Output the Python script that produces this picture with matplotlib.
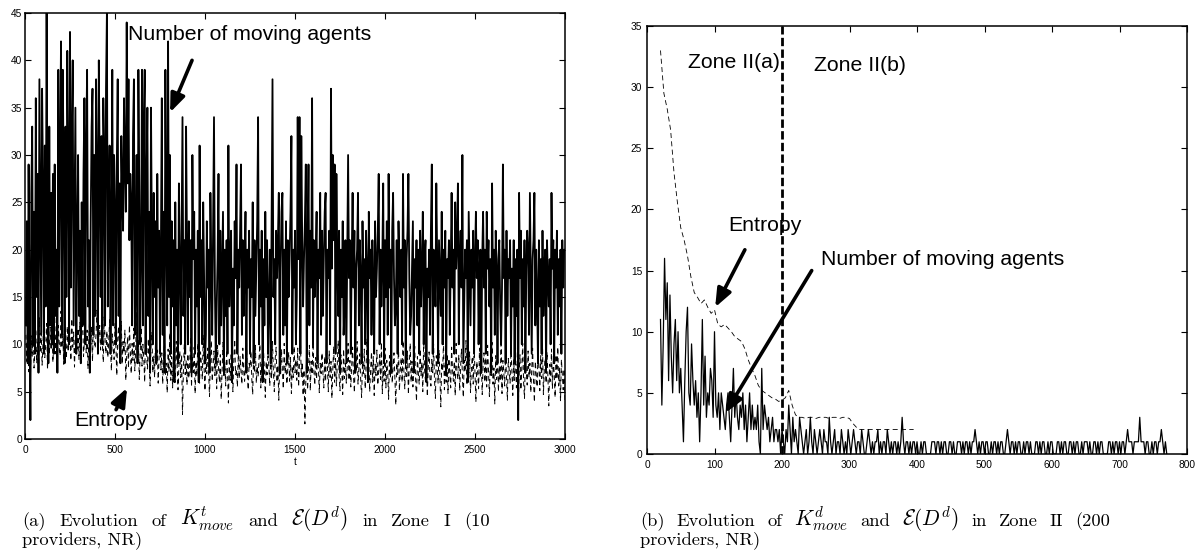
import matplotlib
matplotlib.use('Agg')
import matplotlib.pyplot as plt
import numpy as np

plt.rcParams['font.family'] = ['Liberation Sans', 'DejaVu Sans']
plt.rcParams['mathtext.fontset'] = 'cm'

# ---------------- data: Zone I (10 providers), sampled every 5 steps ----------------
zone1_step = 5
zone1_moving = [
    12, 23, 8, 29, 14, 2, 26, 33, 10, 24, 9, 36, 15, 28, 7, 38, 25, 11, 37, 27, 9, 31, 14, 45, 21, 8, 33, 12, 26, 10,
    28, 9, 29, 13, 20, 7, 39, 14, 30, 42, 11, 39, 27, 8, 33, 15, 41, 29, 10, 43, 16, 31, 40, 12, 24, 35, 9, 21, 30, 13,
    22, 8, 25, 12, 28, 36, 10, 31, 39, 14, 21, 7, 23, 33, 37, 11, 30, 13, 38, 28, 9, 40, 29, 15, 32, 10, 36, 30, 12, 37,
    45, 14, 24, 31, 9, 22, 39, 12, 30, 24, 10, 29, 38, 13, 27, 8, 32, 26, 22, 36, 29, 24, 44, 27, 38, 21, 28, 25, 12, 32,
    38, 11, 18, 30, 8, 39, 26, 10, 20, 39, 12, 33, 39, 9, 27, 35, 13, 24, 7, 35, 21, 10, 26, 15, 23, 8, 28, 16, 22, 9,
    20, 36, 11, 24, 7, 39, 22, 12, 42, 15, 30, 9, 23, 14, 21, 6, 25, 12, 20, 8, 27, 19, 10, 22, 34, 13, 21, 9, 33, 20,
    10, 23, 15, 21, 7, 30, 19, 24, 9, 20, 14, 22, 6, 31, 15, 21, 10, 25, 17, 8, 11, 23, 16, 20, 7, 26, 18, 11, 22, 34,
    16, 8, 14, 19, 28, 10, 22, 12, 18, 24, 7, 20, 13, 21, 9, 31, 14, 19, 22, 6, 18, 12, 23, 17, 29, 9, 20, 16, 22, 29,
    11, 21, 13, 18, 24, 7, 20, 16, 22, 9, 19, 15, 25, 8, 21, 13, 18, 23, 34, 10, 20, 14, 22, 6, 19, 12, 24, 15, 21, 9,
    14, 20, 8, 23, 38, 15, 19, 10, 22, 17, 21, 26, 7, 18, 24, 26, 11, 20, 12, 23, 8, 21, 15, 19, 24, 32, 9, 20, 16, 22,
    10, 15, 34, 19, 34, 9, 32, 21, 14, 19, 23, 29, 7, 20, 29, 12, 22, 16, 36, 10, 21, 15, 19, 24, 8, 20, 17, 26, 11, 22,
    13, 19, 24, 26, 8, 20, 17, 22, 10, 37, 18, 30, 21, 29, 9, 28, 19, 13, 22, 7, 20, 15, 23, 11, 14, 21, 8, 19, 30, 17,
    21, 9, 19, 26, 16, 22, 7, 18, 20, 26, 12, 21, 17, 8, 23, 16, 19, 10, 22, 18, 6, 24, 17, 20, 11, 21, 16, 9, 23, 15,
    18, 22, 28, 10, 20, 14, 19, 27, 8, 21, 15, 23, 11, 28, 16, 20, 7, 22, 26, 17, 12, 14, 21, 9, 23, 18, 15, 20, 10, 28,
    16, 21, 8, 19, 22, 28, 17, 11, 13, 18, 23, 7, 19, 16, 21, 12, 20, 9, 22, 14, 18, 24, 10, 19, 21, 6, 18, 15, 20, 11,
    22, 29, 9, 20, 18, 14, 27, 19, 8, 21, 17, 13, 24, 10, 20, 16, 22, 7, 19, 17, 21, 11, 18, 26, 16, 20, 9, 25, 18, 21,
    27, 10, 19, 22, 16, 30, 8, 14, 20, 17, 21, 6, 24, 18, 12, 20, 16, 22, 9, 19, 24, 17, 21, 10, 18, 20, 7, 19, 24, 16,
    20, 9, 24, 18, 21, 14, 19, 7, 27, 16, 20, 11, 22, 18, 8, 19, 21, 14, 10, 16, 29, 17, 20, 8, 22, 13, 19, 17, 21, 9,
    18, 14, 21, 8, 19, 13, 20, 2, 26, 17, 22, 10, 19, 14, 21, 7, 18, 22, 20, 11, 26, 17, 9, 19, 21, 26, 12, 20, 15, 8,
    21, 14, 19, 9, 22, 13, 18, 20, 7, 21, 17, 14, 19, 10, 26, 18, 21, 8, 20, 16, 22, 11, 19, 14, 20, 9, 21, 16, 20, 20,
]
zone1_entropy = [
    11.0, 8.2, 12.5, 7.1, 9.8, 6.4, 10.9, 8.7, 12.1, 7.5, 9.3, 11.6, 8.0, 10.4, 6.9, 12.8, 9.1, 11.2, 7.8, 10.1, 13.0, 8.6, 9.9, 12.2, 7.3, 10.7, 8.9, 11.8, 9.4, 12.6,
    8.1, 10.5, 13.2, 9.0, 11.4, 7.7, 12.0, 10.2, 8.8, 13.5, 9.6, 11.1, 7.9, 12.4, 10.0, 8.5, 11.9, 9.2, 13.1, 10.6, 8.3, 12.7, 9.7, 11.3, 7.6, 10.8, 12.9, 9.5, 11.7, 8.4,
    12.3, 9.9, 11.0, 13.4, 8.7, 10.3, 12.1, 9.1, 11.5, 7.4, 10.9, 13.0, 9.3, 11.8, 8.2, 12.5, 10.1, 9.6, 11.2, 13.6, 8.9, 10.7, 12.0, 9.4, 11.6, 10.0, 8.1, 12.9, 10.4, 9.0,
    11.4, 8.6, 10.2, 12.6, 9.5, 7.2, 11.1, 10.0, 8.4, 12.2, 9.8, 6.7, 10.6, 11.9, 8.8, 9.7, 12.4, 7.9, 10.3, 9.1, 11.5, 6.2, 8.9, 10.8, 7.5, 12.0, 9.4, 6.9, 10.1, 8.3,
    11.7, 7.2, 9.6, 13.4, 8.0, 10.5, 6.3, 9.2, 11.8, 7.7, 10.0, 8.5, 6.0, 12.1, 9.0, 7.4, 10.6, 8.2, 5.6, 9.7, 11.3, 7.0, 8.8, 6.5, 10.2, 7.9, 9.4, 5.9, 8.6, 10.9,
    7.3, 9.1, 5.8, 8.4, 10.6, 6.7, 8.0, 4.9, 9.5, 7.1, 11.2, 6.2, 8.7, 5.4, 9.8, 7.6, 6.0, 10.3, 8.1, 5.2, 7.7, 9.3, 6.5, 8.9, 2.6, 7.2, 10.0, 6.8, 8.3, 5.7,
    9.0, 6.4, 7.9, 10.8, 5.5, 8.6, 7.0, 9.7, 4.8, 8.2, 6.6, 10.1, 7.4, 5.9, 9.2, 8.0, 6.3, 11.0, 7.5, 5.1, 8.8, 6.9, 9.6, 7.2, 4.5, 8.4, 10.4, 6.1, 7.8, 9.3,
    6.7, 8.5, 5.3, 9.9, 7.6, 6.0, 8.9, 4.2, 7.3, 10.2, 6.5, 8.1, 5.6, 9.4, 7.0, 3.8, 8.6, 6.2, 9.1, 7.8, 5.0, 8.3, 10.5, 6.8, 7.4, 5.5, 9.0, 6.4, 8.7, 7.1,
    5.8, 9.6, 7.2, 6.1, 8.4, 10.7, 6.9, 5.2, 8.0, 7.5, 9.3, 6.3, 4.7, 8.8, 7.0, 9.9, 5.9, 7.7, 6.6, 8.5, 10.0, 5.4, 7.9, 6.2, 9.4, 7.3, 4.4, 8.2, 6.8, 9.1,
    7.6, 5.6, 8.9, 6.4, 10.3, 7.1, 5.0, 8.5, 9.7, 6.0, 7.8, 4.1, 8.3, 6.7, 9.5, 7.2, 5.3, 10.1, 6.9, 8.0, 5.8, 7.4, 9.2, 6.1, 8.6, 4.8, 7.7, 6.5, 9.8, 7.0,
    8.4, 6.2, 9.6, 5.5, 7.9, 10.5, 6.6, 8.1, 4.6, 7.3, 1.6, 6.0, 8.8, 5.2, 7.5, 9.9, 5.1, 8.2, 6.8, 10.2, 7.1, 5.7, 8.6, 6.3, 9.4, 7.6, 4.9, 8.0, 6.9, 9.1,
    7.0, 5.4, 8.7, 6.1, 10.0, 7.7, 5.0, 9.3, 6.5, 8.2, 4.3, 7.4, 9.8, 6.0, 8.5, 5.6, 7.9, 10.4, 6.7, 5.1, 8.9, 7.2, 4.7, 9.5, 6.4, 8.0, 5.9, 7.5, 10.1, 6.2,
    8.3, 5.5, 7.8, 9.7, 6.6, 4.9, 8.6, 7.1, 10.3, 5.8, 7.4, 9.0, 6.2, 4.4, 8.1, 6.9, 9.5, 5.3, 7.6, 10.6, 6.4, 8.4, 5.0, 7.3, 9.2, 6.0, 8.7, 4.6, 7.9, 6.7,
    9.4, 5.7, 7.2, 8.9, 6.3, 10.2, 4.8, 7.7, 6.1, 9.6, 5.4, 8.3, 7.0, 4.2, 8.8, 6.5, 10.0, 5.9, 7.5, 9.1, 6.2, 3.6, 8.0, 6.8, 9.7, 5.1, 7.3, 8.6, 6.0, 10.4,
    7.1, 5.3, 8.5, 6.6, 9.3, 4.7, 7.9, 10.1, 6.0, 8.2, 5.5, 7.4, 9.8, 6.3, 4.0, 8.7, 7.0, 5.8, 9.5, 6.7, 8.1, 5.0, 10.5, 7.3, 6.1, 8.9, 4.5, 7.6, 9.2, 6.4,
    5.6, 8.4, 7.0, 10.0, 6.2, 4.3, 8.8, 7.5, 5.9, 9.4, 6.6, 3.4, 8.1, 7.2, 10.3, 5.2, 7.8, 6.0, 9.0, 4.8, 8.5, 6.9, 5.4, 9.7, 7.4, 6.1, 8.2, 4.6, 10.1, 7.0,
    6.3, 8.9, 5.1, 7.6, 9.5, 6.7, 4.4, 8.3, 7.1, 10.4, 5.7, 8.0, 6.4, 9.2, 4.9, 7.4, 8.7, 5.8, 10.0, 6.9, 3.9, 8.2, 7.0, 5.3, 9.6, 6.5, 8.4, 4.7, 7.8, 9.1,
    6.0, 8.6, 5.5, 9.9, 7.2, 4.5, 8.1, 6.7, 10.2, 5.8, 7.5, 3.7, 8.8, 6.3, 9.4, 5.0, 7.7, 6.1, 10.5, 4.8, 8.3, 7.0, 5.6, 9.0, 6.6, 4.1, 8.5, 7.3, 5.9, 9.7,
    7.1, 4.6, 8.4, 6.2, 9.8, 5.4, 7.9, 3.0, 6.8, 8.9, 5.2, 7.5, 10.1, 6.0, 4.3, 8.6, 7.2, 5.7, 9.3, 6.5, 8.0, 4.9, 7.4, 9.6, 6.1, 3.9, 8.2, 6.9, 5.5, 9.0,
    7.7, 5.1, 8.8, 6.4, 10.0, 4.7, 7.3, 8.5, 5.9, 9.2, 6.6, 3.5, 7.9, 6.1, 9.5, 5.3, 8.2, 7.0, 4.4, 8.9, 6.3, 9.7, 5.6, 7.5, 4.0, 8.4, 6.8, 5.2, 7.4, 3.8,
]

# ---------------- data: Zone II (200 providers) ----------------
zone2_start = 20
zone2_moving_step = 2
zone2_moving = [
    11, 4, 9, 16, 11, 14, 6, 13, 8, 5, 9, 11, 6, 10, 5, 7, 4, 1, 6, 10, 12, 5, 4, 9, 6, 4, 6, 3, 5, 1,
    5, 11, 4, 8, 3, 5, 4, 7, 6, 3, 10, 4, 3, 5, 2, 5, 4, 3, 2, 4, 5, 3, 1, 4, 7, 3, 5, 3, 2, 4,
    3, 5, 2, 4, 1, 3, 5, 2, 4, 2, 3, 2, 4, 1, 0, 7, 2, 4, 3, 2, 3, 1, 2, 3, 1, 2, 2, 1, 2, 0, 2,
    1, 0, 2, 1, 4, 2, 0, 3, 1, 2, 1, 0, 3, 2, 1, 0, 1, 2, 0, 1, 3, 1, 0, 2, 1, 0, 1, 2, 1, 0, 2, 1, 1, 0, 3, 1, 0, 1, 2, 0, 1, 1, 0, 2, 1, 0, 1, 0, 2, 1,
    0, 1, 2, 1, 0, 1, 1, 0, 2, 1, 0, 0, 1, 2, 1, 0, 1, 0, 1, 1, 2, 0, 1, 0, 1, 1, 0, 2, 1, 0, 1, 0, 1, 1, 0, 1, 0, 1, 3, 1, 0, 1, 1, 0, 1, 0, 1, 1, 0, 1,
    0, 0, 1, 0, 1, 1, 0, 0, 0, 0, 1, 1, 1, 0, 1, 1, 0, 1, 0, 1, 1, 0, 0, 1, 1, 0, 1, 0, 0, 1, 1, 1, 0, 1, 0, 1, 1, 0, 1, 0, 1, 1, 2, 1, 0, 1, 0, 1, 1, 0,
    1, 1, 0, 0, 1, 0, 1, 1, 0, 1, 0, 1, 1, 0, 0, 1, 2, 1, 0, 1, 1, 0, 1, 0, 1, 1, 0, 0, 1, 0, 1, 1, 0, 1, 0, 0, 0, 1, 1, 0, 1, 0, 1, 1, 0, 0, 1, 0, 1, 1,
    0, 0, 0, 1, 1, 0, 1, 0, 1, 1, 0, 0, 1, 1, 0, 1, 0, 1, 1, 0, 0, 1, 0, 1, 1, 1, 0, 1, 0, 0, 1, 1, 0, 1, 0, 1, 1, 0, 0, 0, 0, 1, 1, 0, 1, 0, 1, 1, 0, 1,
    0, 1, 1, 0, 1, 2, 1, 1, 1, 0, 1, 1, 1, 1, 3, 1, 1, 1, 0, 1, 1, 0, 0, 1, 0, 1, 1, 0, 1, 1, 2, 1, 0, 1, 0,
]
zone2_entropy_step = 5
zone2_entropy = [
    33.0, 29.5, 28.2, 26.5, 23.0, 20.6, 18.5, 17.5, 16.2, 14.5, 13.2, 12.8, 12.3, 12.6, 12.0, 11.5, 11.8, 10.6, 10.4, 10.6,
    10.3, 10.0, 9.6, 9.4, 9.2, 8.6, 7.7, 7.0, 6.4, 5.6, 5.2, 5.0, 4.8, 4.6, 4.5, 4.3, 4.4, 4.6, 5.2, 4.0,
    3.2, 3.0, 3.0, 2.9, 3.0, 3.0, 2.9, 3.0, 3.0, 3.0, 2.9, 3.0, 3.0, 2.9, 3.0, 3.0, 2.9, 2.5, 2.2, 2.0,
    2.0, 2.0, 2.0, 2.0, 2.0, 2.0, 2.0, 2.0, 2.0, 2.0, 2.0, 2.0, 2.0, 2.0, 2.0, 2.0,
]
zone_boundary = 200

t1 = zone1_step * np.arange(1, len(zone1_moving) + 1)
t2m = zone2_start + zone2_moving_step * np.arange(len(zone2_moving))
t2e = zone2_start + zone2_entropy_step * np.arange(len(zone2_entropy))

W, H = 1199, 551
fig = plt.figure(figsize=(W / 100, H / 100), dpi=100)

def px_axes(x0, y0, x1, y1):
    return fig.add_axes([x0 / W, 1 - y1 / H, (x1 - x0) / W, (y1 - y0) / H])

tick_font = 7.3
ann_font = 15.3

def style(ax, ypad):
    ax.tick_params(direction='in', top=True, right=True, length=4, width=0.8,
                   labelsize=tick_font)
    ax.tick_params(axis='x', pad=4)
    ax.tick_params(axis='y', pad=ypad)
    for s in ax.spines.values():
        s.set_linewidth(1.1)

arrow_kw = dict(arrowstyle='-|>,head_length=0.55,head_width=0.22', lw=2.6,
                color='k', mutation_scale=20, shrinkA=0, shrinkB=0)

# ---------- left panel ----------
axL = px_axes(25, 13, 565, 439)
axL.plot(t1, zone1_moving, color='k', lw=1.3)
axL.plot(t1, zone1_entropy, color='k', lw=0.7, ls=(0, (5, 3.5)))
axL.set_xlim(0, 3000)
axL.set_ylim(0, 45)
axL.set_xticks(np.arange(0, 3001, 500))
axL.set_yticks(np.arange(0, 46, 5))
axL.set_xlabel('t', fontsize=tick_font, labelpad=2)
style(axL, 2)
axL.text(572, 42.7, 'Number of moving agents', fontsize=ann_font, va='center', ha='left')
axL.annotate('', xy=(806, 34.5), xytext=(928, 40.0), arrowprops=arrow_kw)
axL.text(272, 2.0, 'Entropy', fontsize=ann_font, va='center', ha='left')
axL.annotate('', xy=(567, 5.4), xytext=(506, 3.1), arrowprops=arrow_kw)

# ---------- right panel ----------
axR = px_axes(647, 26, 1187, 454)
axR.plot(t2m, zone2_moving, color='k', lw=0.9)
axR.plot(t2e, zone2_entropy, color='k', lw=0.6, ls=(0, (6, 4)))
axR.axvline(zone_boundary, color='k', lw=2.0, ls=(0, (3, 1.2)))
axR.set_xlim(0, 800)
axR.set_ylim(0, 35)
axR.set_xticks(np.arange(0, 801, 100))
axR.set_yticks(np.arange(0, 36, 5))
style(axR, 3.5)
axR.text(61, 32.0, 'Zone II(a)', fontsize=ann_font, va='center', ha='left')
axR.text(247, 31.8, 'Zone II(b)', fontsize=ann_font, va='center', ha='left')
axR.text(120, 18.7, 'Entropy', fontsize=ann_font, va='center', ha='left')
axR.annotate('', xy=(101, 12.0), xytext=(145, 16.7), arrowprops=arrow_kw)
axR.text(258, 15.9, 'Number of moving agents', fontsize=ann_font, va='center', ha='left')
axR.annotate('', xy=(116, 3.35), xytext=(244, 15.0), arrowprops=arrow_kw)

# ---------- captions (justified first line, LaTeX-like) ----------
cap_font = 13.3
math_font = cap_font * 1.15
renderer = fig.canvas.get_renderer()

def justified(words, x0, x1, ybase):
    texts = [fig.text(0, 1 - ybase / H, w,
                      fontsize=math_font if w.startswith('$') else cap_font,
                      family='cmr10', va='baseline', ha='left') for w in words]
    widths = [t.get_window_extent(renderer).width for t in texts]
    gap = ((x1 - x0) - sum(widths)) / (len(words) - 1)
    x = x0
    for t, w in zip(texts, widths):
        t.set_x(x / W)
        x += w + gap

cap_a = ['(a)', 'Evolution', 'of', r'$K^t_{move}$', 'and', r'$\mathcal{E}(D^d)$',
         'in', 'Zone', 'I', '(10']
cap_b = ['(b)', 'Evolution', 'of', r'$K^d_{move}$', 'and', r'$\mathcal{E}(D^d)$',
         'in', 'Zone', 'II', '(200']
cap_tail = 'providers, NR)'

justified(cap_a, 22, 490, 526)
fig.text(22 / W, 1 - 544 / H, cap_tail, fontsize=cap_font, family='cmr10', va='baseline')
justified(cap_b, 640, 1110, 526)
fig.text(640 / W, 1 - 544 / H, cap_tail, fontsize=cap_font, family='cmr10', va='baseline')

fig.savefig('out.png', dpi=100)
